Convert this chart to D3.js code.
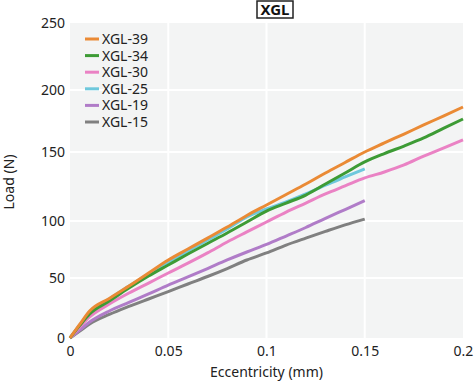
<!DOCTYPE html>
<html>
<head>
<meta charset="utf-8">
<script src="https://cdn.jsdelivr.net/npm/d3@7"></script>
<style>
html,body{margin:0;padding:0;background:#fff;}
text{font-family:"Noto Sans",sans-serif;}
</style>
</head>
<body>
<svg id="chart" width="474" height="381"></svg>
<script>
const eccentricity = [0,0.005,0.01,0.02,0.03,0.04,0.05,0.06,0.07,0.08,0.09,0.1,0.11,0.12,0.13,0.14,0.15,0.16,0.17,0.18,0.19,0.2];
const xgl39 = [0,11.5,22.5,33,43.3,54.4,65.8,75.4,85,94.7,104,111.6,119.2,126.8,134.8,142.4,150,157.3,164.5,171.8,179,186.3];
const xgl34 = [0,10.5,20,30.8,41.7,51.8,61.4,71,80.3,89.5,99.1,107.2,113,118.8,126.8,134.8,142.8,148.9,154.8,161.3,169,176.6];
const xgl30 = [0,9.2,17.5,28.3,37.5,45.8,54.4,63,72,81.6,90.4,99.1,106.5,113,119.6,125.4,131.2,135.5,140.6,147,153.2,159.7];
const xgl25 = [0,10.8,20.8,32.5,43.3,53.5,64,73.7,83.3,93,103,108.7,113.8,119.6,126,131.9,137.7];
const xgl19 = [0,6.7,13.3,22.5,29.6,36.7,44,50.9,58.3,65.8,72.8,79.4,86.8,94.3,101.9,108.3,114.7];
const xgl15 = [0,5.8,11.7,19.6,26.3,32.5,38.6,45,51.3,58.3,65.8,72,78.9,85,90.9,96.6,101.4];

const seriesNames = ["XGL-39","XGL-34","XGL-30","XGL-25","XGL-19","XGL-15"];
const seriesValues = [xgl39,xgl34,xgl30,xgl25,xgl19,xgl15];
const seriesColors = ["#ea8a35","#3d9b35","#ea82c4","#6ec8dc","#b07cc8","#808080"];

const xTicks = [0,0.05,0.1,0.15,0.2];
const xTickLabels = ["0","0.05","0.1","0.15","0.2"];
const yTicks = [0,50,100,150,200,250];
const yTickLabels = ["0","50","100","150","200","250"];
const title = "XGL";
const xLabel = "Eccentricity (mm)";
const yLabel = "Load (N)";

const svg = d3.select("#chart");
const pL = 70, pR = 463, pT = 23, pB = 338;

const x = d3.scaleLinear().domain([0,0.2]).range([pL,pR]);
// gridlines in the reference are not evenly spaced; follow them piecewise
const y = d3.scaleLinear().domain(yTicks).range([338,278,221,152,90,23]);

svg.append("rect").attr("x",pL).attr("y",pT).attr("width",pR-pL).attr("height",pB-pT).attr("fill","#f3f4f4");

const grid = svg.append("g");
grid.selectAll(".gx").data(xTicks.slice(1,-1)).join("line")
  .attr("x1",d=>x(d)).attr("x2",d=>x(d)).attr("y1",pT).attr("y2",pB)
  .attr("stroke","#fff").attr("stroke-width",2);
grid.selectAll(".gy").data(yTicks.slice(1,-1)).join("line")
  .attr("y1",d=>y(d)).attr("y2",d=>y(d)).attr("x1",pL).attr("x2",pR)
  .attr("stroke","#fff").attr("stroke-width",2);

// axes
const xAxis = d3.axisBottom(x).tickValues(xTicks).tickFormat((d,i)=>xTickLabels[i]).tickSize(0).tickPadding(8);
const gx = svg.append("g").attr("transform",`translate(0,${pB})`).call(xAxis);
gx.select(".domain").remove();
gx.selectAll("text").attr("font-size",14).attr("fill","#222").attr("font-family","Noto Sans");

const yAxis = d3.axisLeft(y).tickValues(yTicks).tickFormat((d,i)=>yTickLabels[i]).tickSize(0).tickPadding(5);
const gy = svg.append("g").attr("transform",`translate(${pL},0)`).call(yAxis);
gy.select(".domain").remove();
gy.selectAll("text").attr("font-size",14).attr("fill","#222").attr("font-family","Noto Sans");

svg.append("text").attr("x",(pL+pR)/2).attr("y",377).attr("text-anchor","middle")
  .attr("font-size",14).attr("fill","#222").text(xLabel);
svg.append("text").attr("transform",`translate(14,182) rotate(-90)`).attr("text-anchor","middle")
  .attr("font-size",14).attr("fill","#222").text(yLabel);

// lines
const line = d3.line().x((d,i)=>x(eccentricity[i])).y(d=>y(d)).curve(d3.curveMonotoneX);
const order = [5,4,3,2,1,0];
svg.append("g").selectAll("path").data(order).join("path")
  .attr("d",i=>line(seriesValues[i]))
  .attr("fill","none").attr("stroke",i=>seriesColors[i]).attr("stroke-width",3)
  .attr("stroke-linejoin","round");

// legend
const lg = svg.append("g");
seriesNames.forEach((n,i)=>{
  const yy = 39 + i*16.6;
  lg.append("line").attr("x1",85).attr("x2",99).attr("y1",yy).attr("y2",yy)
    .attr("stroke",seriesColors[i]).attr("stroke-width",3);
  lg.append("text").attr("x",102).attr("y",yy+5).attr("font-size",14).attr("fill","#222").text(n);
});

// title
svg.append("rect").attr("x",257).attr("y",1).attr("width",36).attr("height",17)
  .attr("fill","#fff").attr("stroke","#222").attr("stroke-width",1.5);
svg.append("text").attr("x",275).attr("y",14.5).attr("text-anchor","middle")
  .attr("font-size",15).attr("font-weight","bold").attr("fill","#111").text(title);
</script>
</body>
</html>
